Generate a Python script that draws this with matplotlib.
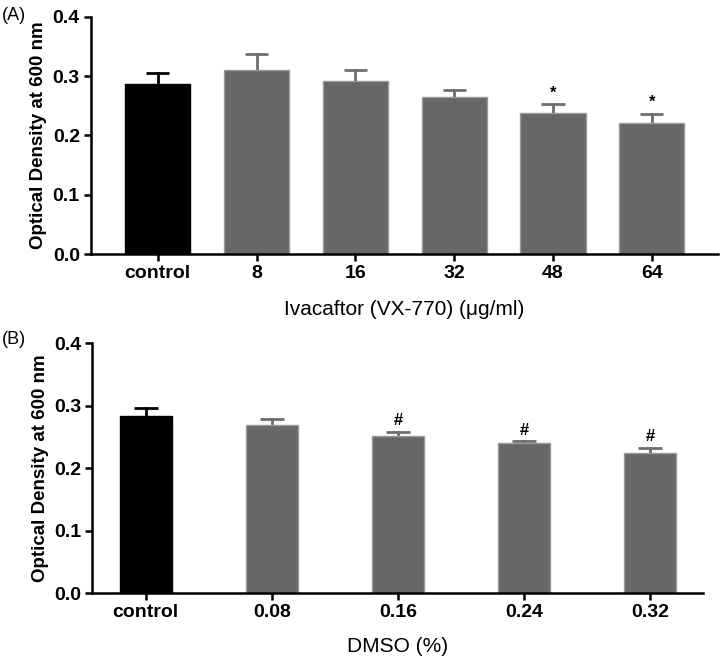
import numpy as np
import matplotlib
matplotlib.use('Agg')
import matplotlib.pyplot as plt

# panel A - ivacaftor
cats_a = ['control', '8', '16', '32', '48', '64']
vals_a = [0.286, 0.310, 0.291, 0.265, 0.238, 0.221]
errs_a = [0.020, 0.028, 0.020, 0.011, 0.015, 0.016]
marks_a = ['', '', '', '', '*', '*']

# panel B - DMSO
cats_b = ['control', '0.08', '0.16', '0.24', '0.32']
vals_b = [0.284, 0.269, 0.252, 0.241, 0.225]
errs_b = [0.012, 0.010, 0.006, 0.002, 0.008]
marks_b = ['', '', '#', '#', '#']

yticks = [0.0, 0.1, 0.2, 0.3, 0.4]

narrow = ['DejaVu Sans Condensed', 'Liberation Sans', 'DejaVu Sans']
wide = ['Liberation Sans', 'DejaVu Sans']
grey = '#676767'

fig = plt.figure(figsize=(7.22, 6.59), dpi=100)
axA = fig.add_axes([0.126, 0.6141, 0.8685, 0.3606])
axB = fig.add_axes([0.128, 0.0997, 0.846, 0.3793])


def draw(ax, cats, vals, errs, marks, width, capw, xlim, xlabel, lpad):
    x = np.arange(len(cats))
    cols = ['black'] + [grey] * (len(cats) - 1)
    ecols = ['black'] + ['#999999'] * (len(cats) - 1)
    ax.bar(x, vals, width=width, color=cols, edgecolor=ecols, linewidth=1.0, zorder=2)
    for i in range(len(cats)):
        c = 'black' if i == 0 else '#6e6e6e'
        top = vals[i] + errs[i]
        ax.plot([x[i], x[i]], [vals[i], top], color=c, lw=2, zorder=1)
        ax.plot([x[i] - capw / 2, x[i] + capw / 2], [top, top], color=c, lw=2, zorder=1,
                solid_capstyle='butt')
        if marks[i]:
            ax.text(x[i], top + 0.006, marks[i], ha='center', va='bottom',
                    fontsize=12, fontweight='bold', family=wide)
    ax.set_xlim(*xlim)
    ax.set_ylim(0, 0.4)
    ax.set_yticks(yticks)
    ax.set_yticklabels(['%.1f' % t for t in yticks])
    ax.set_xticks(x)
    ax.set_xticklabels(cats)
    for lab in ax.get_xticklabels() + ax.get_yticklabels():
        lab.set_family(narrow)
        lab.set_fontweight('bold')
        lab.set_fontsize(14)
    ax.spines['top'].set_visible(False)
    ax.spines['right'].set_visible(False)
    ax.spines['left'].set_linewidth(1.8)
    ax.spines['bottom'].set_linewidth(1.8)
    ax.tick_params(axis='both', direction='out', length=5, width=1.8, pad=3)
    ax.set_ylabel('Optical Density at 600 nm', fontsize=13.5, fontweight='bold',
                  family=wide, labelpad=4)
    ax.set_xlabel(xlabel, fontsize=15, family=narrow, labelpad=lpad)


draw(axA, cats_a, vals_a, errs_a, marks_a, 0.66, 0.235, (-0.675, 5.67),
     'Ivacaftor (VX-770) (\u03bcg/ml)', 12.5)
draw(axB, cats_b, vals_b, errs_b, marks_b, 0.413, 0.19, (-0.423, 4.42), 'DMSO (%)', 11)

fig.text(0.003, 0.977, '(A)', fontsize=13, family=narrow, va='center', ha='left')
fig.text(0.003, 0.485, '(B)', fontsize=13, family=narrow, va='center', ha='left')

fig.savefig('out.png', dpi=100)
